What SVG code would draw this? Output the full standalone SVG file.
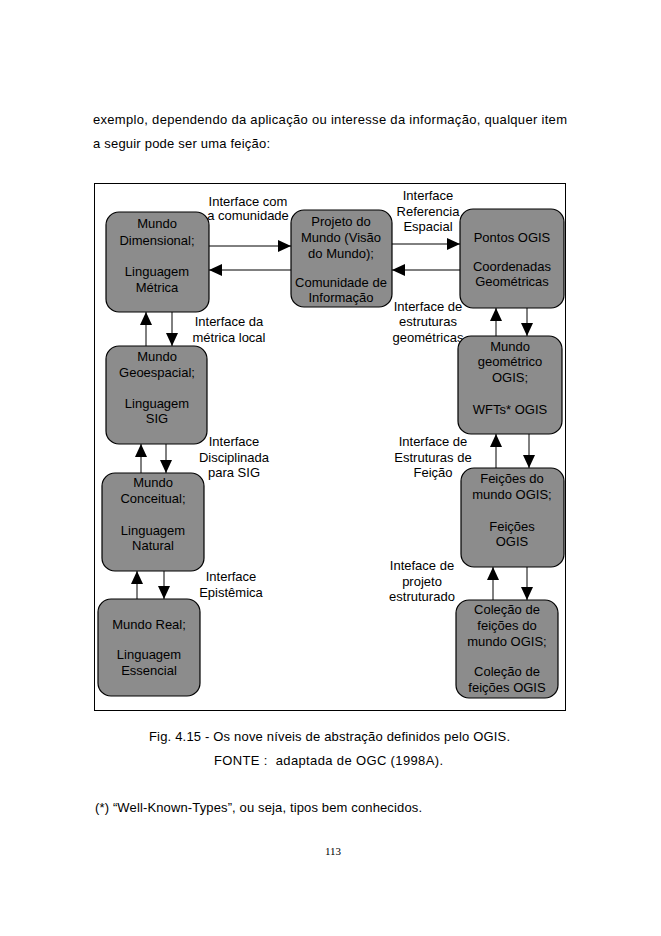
<svg xmlns="http://www.w3.org/2000/svg" width="661" height="936" viewBox="0 0 661 936">
<defs>
<style>
.t{font-family:"Liberation Sans",Arial,sans-serif;font-size:13px;fill:#000}
.c{text-anchor:middle}
.box{fill:#8c8c8c;stroke:#000;stroke-width:1.2}
.ln{stroke:#000;stroke-width:1;fill:none;marker-end:url(#ah)}
</style>
<marker id="ah" markerUnits="userSpaceOnUse" markerWidth="13" markerHeight="12" refX="13" refY="6" orient="auto">
<path d="M0,0 L13,6 L0,12 z" fill="#000"/>
</marker>
</defs>
<rect width="661" height="936" fill="#fff"/>
<text class="t" x="93" y="124" textLength="474">exemplo, dependendo da aplicação ou interesse da informação, qualquer item</text>
<text class="t" x="93" y="148" textLength="177">a seguir pode ser uma feição:</text>
<rect x="94.5" y="183.5" width="471" height="527" fill="none" stroke="#000" stroke-width="1"/>
<g id="connectors">
<line class="ln" x1="209" y1="246" x2="291" y2="246"/>
<line class="ln" x1="291" y1="270" x2="209" y2="270"/>
<line class="ln" x1="392" y1="244" x2="460" y2="244"/>
<line class="ln" x1="460" y1="270" x2="392" y2="270"/>
<line class="ln" x1="146" y1="346" x2="146" y2="312"/>
<line class="ln" x1="172" y1="312" x2="172" y2="346"/>
<line class="ln" x1="141" y1="473" x2="141" y2="444"/>
<line class="ln" x1="166" y1="444" x2="166" y2="473"/>
<line class="ln" x1="137" y1="599" x2="137" y2="571"/>
<line class="ln" x1="164" y1="571" x2="164" y2="599"/>
<line class="ln" x1="496" y1="336" x2="496" y2="308"/>
<line class="ln" x1="527" y1="308" x2="527" y2="336"/>
<line class="ln" x1="496" y1="468" x2="496" y2="434"/>
<line class="ln" x1="529" y1="434" x2="529" y2="468"/>
<line class="ln" x1="493" y1="600" x2="493" y2="567"/>
<line class="ln" x1="527" y1="567" x2="527" y2="600"/>
<text class="t c" x="248" y="206">Interface com</text>
<text class="t c" x="248" y="220">a comunidade</text>
<text class="t c" x="428" y="200">Interface</text>
<text class="t c" x="428" y="216">Referencia</text>
<text class="t c" x="428" y="231">Espacial</text>
<text class="t c" x="229" y="326">Interface da</text>
<text class="t c" x="229" y="342">métrica local</text>
<text class="t c" x="234" y="446">Interface</text>
<text class="t c" x="234" y="462">Disciplinada</text>
<text class="t c" x="234" y="477">para SIG</text>
<text class="t c" x="231" y="581">Interface</text>
<text class="t c" x="231" y="597">Epistêmica</text>
<text class="t c" x="428" y="311">Interface de</text>
<text class="t c" x="428" y="326">estruturas</text>
<text class="t c" x="428" y="342">geométricas</text>
<text class="t c" x="433" y="446">Interface de</text>
<text class="t c" x="433" y="462">Estruturas de</text>
<text class="t c" x="433" y="477">Feição</text>
<text class="t c" x="422" y="570">Inteface de</text>
<text class="t c" x="422" y="586">projeto</text>
<text class="t c" x="422" y="601">estruturado</text>
</g>
<g id="n1">
<rect class="box" x="106" y="212" width="103" height="100" rx="13"/>
<text class="t c" x="157" y="228">Mundo</text>
<text class="t c" x="157" y="245">Dimensional;</text>
<text class="t c" x="157" y="276">Linguagem</text>
<text class="t c" x="157" y="292">Métrica</text>
</g>
<g id="n2">
<rect class="box" x="291" y="210" width="101" height="97" rx="13"/>
<text class="t c" x="341" y="226">Projeto do</text>
<text class="t c" x="341" y="242">Mundo (Visão</text>
<text class="t c" x="341" y="258">do Mundo);</text>
<text class="t c" x="341" y="287">Comunidade de</text>
<text class="t c" x="341" y="302">Informação</text>
</g>
<g id="n3">
<rect class="box" x="460" y="209" width="104" height="99" rx="13"/>
<text class="t c" x="512" y="242">Pontos OGIS</text>
<text class="t c" x="512" y="271">Coordenadas</text>
<text class="t c" x="512" y="286">Geométricas</text>
</g>
<g id="n4">
<rect class="box" x="106" y="346" width="101" height="98" rx="13"/>
<text class="t c" x="157" y="361">Mundo</text>
<text class="t c" x="157" y="377">Geoespacial;</text>
<text class="t c" x="157" y="408">Linguagem</text>
<text class="t c" x="157" y="423">SIG</text>
</g>
<g id="n5">
<rect class="box" x="102" y="473" width="102" height="98" rx="13"/>
<text class="t c" x="153" y="487">Mundo</text>
<text class="t c" x="153" y="503">Conceitual;</text>
<text class="t c" x="153" y="535">Linguagem</text>
<text class="t c" x="153" y="550">Natural</text>
</g>
<g id="n6">
<rect class="box" x="98" y="599" width="102" height="97" rx="13"/>
<text class="t c" x="149" y="629">Mundo Real;</text>
<text class="t c" x="149" y="659">Linguagem</text>
<text class="t c" x="149" y="675">Essencial</text>
</g>
<g id="n7">
<rect class="box" x="458" y="336" width="104" height="98" rx="13"/>
<text class="t c" x="510" y="351">Mundo</text>
<text class="t c" x="510" y="366">geométrico</text>
<text class="t c" x="510" y="382">OGIS;</text>
<text class="t c" x="510" y="414">WFTs* OGIS</text>
</g>
<g id="n8">
<rect class="box" x="461" y="468" width="103" height="99" rx="13"/>
<text class="t c" x="512" y="483">Feições do</text>
<text class="t c" x="512" y="499">mundo OGIS;</text>
<text class="t c" x="512" y="531">Feições</text>
<text class="t c" x="512" y="546">OGIS</text>
</g>
<g id="n9">
<rect class="box" x="456" y="600" width="102" height="98" rx="13"/>
<text class="t c" x="507" y="614">Coleção de</text>
<text class="t c" x="507" y="630">feições do</text>
<text class="t c" x="507" y="646">mundo OGIS;</text>
<text class="t c" x="507" y="676">Coleção de</text>
<text class="t c" x="507" y="692">feições OGIS</text>
</g>
<text class="t" x="149" y="741" textLength="361">Fig. 4.15 - Os nove níveis de abstração definidos pelo OGIS.</text>
<text class="t" x="214" y="765" textLength="229" xml:space="preserve">FONTE :  adaptada de OGC (1998A).</text>
<text class="t" x="95" y="812" textLength="327">(*) “Well-Known-Types”, ou seja, tipos bem conhecidos.</text>
<text x="333" y="855" text-anchor="middle" style="font-family:'Liberation Serif',serif;font-size:11px">113</text>
</svg>
